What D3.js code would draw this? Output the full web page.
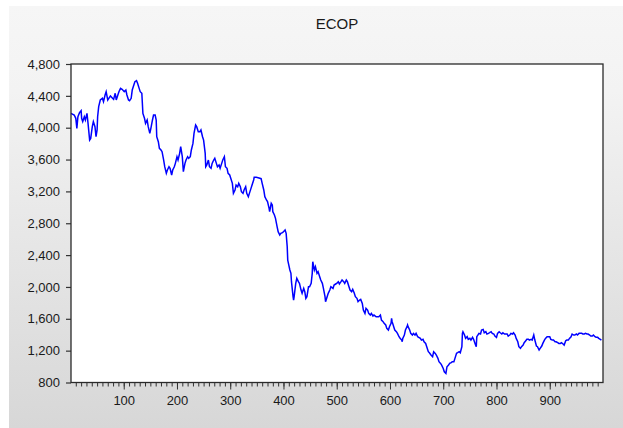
<!DOCTYPE html>
<html>
<head>
<meta charset="utf-8">
<script src="https://cdn.jsdelivr.net/npm/d3@7"></script>
<style>
  html, body { margin: 0; padding: 0; background: #ffffff; }
  svg { display: block; }
  text { font-family: Arial, "Liberation Sans", sans-serif; fill: #1a1a1a; }
</style>
</head>
<body>
<svg id="chart" width="623" height="428"></svg>
<script>
// Observation numbers and ECOP values
const obsIndex = [
  1,7,10,12,14,17,20,21,23,26,28,31,33,36,38,41,43,46,48,50,51,53,56,60,62,65,67,70,72,75,
  79,81,84,86,89,91,94,97,101,104,106,109,111,114,116,119,121,124,126,129,131,134,135,136,139,141,144,146,149,151,
  154,156,159,161,162,165,167,170,172,175,177,180,182,185,187,190,192,195,197,200,202,205,207,210,212,215,217,220,222,225,
  227,230,232,235,237,240,243,245,248,250,253,254,256,259,261,264,266,269,271,274,276,279,281,284,286,289,291,294,296,299,
  301,304,306,309,311,314,316,319,321,324,326,329,331,334,336,339,341,344,
  345,349,354,358,360,363,365,368,370,373,374,377,379,380,383,385,388,390,393,395,398,400,403,405,407,408,410,412,414,415,
  417,418,419,420,423,425,428,430,433,435,438,440,442,444,447,449,452,454,455,458,460,463,465,468,470,473,475,478,479,482,
  484,487,489,493,495,498,500,503,505,508,510,513,515,518,520,523,525,528,530,533,535,538,540,543,545,548,550,553,555,558,
  560,563,565,568,570,574,579,
  582,584,587,589,592,594,597,599,602,603,604,606,607,609,612,614,617,619,622,623,624,627,629,632,633,634,637,639,642,644,
  647,649,652,654,657,659,662,664,667,669,672,674,677,680,682,685,687,690,692,695,697,700,702,705,706,707,710,712,715,717,
  720,722,725,727,730,732,735,736,737,740,742,745,747,750,752,755,757,760,762,763,765,767,770,772,775,777,780,782,785,787,
  790,792,795,797,800,802,805,807,810,812,815,817,820,822,825,827,830,832,835,837,840,842,845,847,850,852,855,857,860,862,
  865,867,870,872,875,877,880,882,885,887,890,892,895,897,900,902,905,907,910,912,915,917,920,922,925,927,930,932,935,937,
  940,942,945,947,950,952,955,957,960,962,965,967,970,972,975,977,980,982,985,987,990,992,995,997
];
const ecopValues = [
  4180,4159,4118,3992,4138,4189,4214,4118,4076,4138,4097,4180,4055,3845,3866,4013,4076,4013,3887,3971,4138,4264,4348,4369,4327,4411,4452,4348,4369,4398,
  4369,4356,4432,4348,4411,4452,4494,4482,4452,4473,4411,4348,4339,4369,4473,4536,4578,4591,4557,4494,4452,4432,4306,4180,4118,4055,4097,4013,3929,3992,
  4097,4159,4159,4097,3887,3824,3741,3720,3699,3594,3510,3427,3469,3510,3490,3406,3469,3510,3552,3636,3594,3678,3762,3636,3448,3552,3594,3636,3615,3636,
  3720,3803,3929,4034,4013,3950,3950,3971,3887,3845,3678,3510,3531,3594,3510,3490,3552,3594,3615,3552,3510,3531,3490,3552,3594,3636,3510,3490,3427,3406,
  3364,3301,3175,3217,3280,3259,3301,3259,3196,3175,3217,3259,3175,3134,3175,3238,3280,3343,
  3377,3377,3368,3360,3301,3218,3134,3092,3071,2988,2945,3050,3029,2945,2904,2862,2757,2694,2652,2673,2682,2694,2715,2673,2506,2338,2275,2213,2171,2066,
  1941,1878,1836,1878,2045,2108,2066,2045,1961,1920,1982,1941,1857,1878,2003,2003,2045,2171,2317,2213,2254,2171,2192,2129,2087,2045,1982,1878,1815,1878,
  1920,1961,2003,1982,2024,2037,2045,2066,2037,2066,2087,2066,2045,2087,2066,2003,1961,1941,1970,1920,1878,1857,1815,1836,1844,1794,1710,1668,1731,1710,
  1668,1647,1668,1635,1647,1626,1626,
  1647,1584,1564,1543,1522,1480,1459,1501,1543,1605,1564,1522,1501,1459,1438,1417,1375,1354,1333,1312,1354,1396,1459,1501,1522,1501,1459,1417,1396,1417,
  1396,1417,1375,1367,1354,1333,1342,1312,1291,1250,1187,1174,1145,1124,1187,1166,1145,1103,1061,1040,1019,977,935,915,956,998,1019,1040,1049,1061,
  1061,1103,1166,1174,1187,1174,1250,1417,1438,1396,1354,1375,1342,1354,1333,1367,1342,1283,1250,1375,1396,1417,1409,1459,1467,1425,1438,1409,1417,1425,
  1438,1417,1409,1383,1367,1417,1438,1425,1409,1425,1409,1409,1409,1383,1396,1417,1409,1425,1396,1354,1312,1250,1229,1250,1270,1300,1325,1342,1342,1333,
  1342,1333,1396,1333,1258,1250,1208,1229,1258,1291,1333,1354,1375,1375,1375,1342,1333,1333,1312,1312,1300,1291,1291,1300,1283,1270,1325,1333,1333,1354,
  1375,1409,1396,1396,1409,1396,1417,1417,1417,1409,1409,1417,1409,1409,1396,1383,1383,1396,1375,1367,1367,1354,1342,1333
];

const chartTitle = "ECOP";
const yTickValues = [800, 1200, 1600, 2000, 2400, 2800, 3200, 3600, 4000, 4400, 4800];
const xMajorTicks = [100, 200, 300, 400, 500, 600, 700, 800, 900];
const xMinorTicks = d3.range(10, 1000, 10);

const series = obsIndex.map((n, i) => ({ n, v: ecopValues[i] }));

const svg = d3.select("#chart");
const W = 623, H = 428;
const plot = { left: 71, right: 603, top: 64, bottom: 382.5 };

// Panel background with a soft vertical gradient
const defs = svg.append("defs");
const grad = defs.append("linearGradient")
  .attr("id", "panelGrad").attr("x1", 0).attr("y1", 0).attr("x2", 0).attr("y2", 1);
grad.append("stop").attr("offset", "0%").attr("stop-color", "#f6f6f6");
grad.append("stop").attr("offset", "20%").attr("stop-color", "#f3f3f3");
grad.append("stop").attr("offset", "100%").attr("stop-color", "#d7d7d7");

svg.append("rect").attr("width", W).attr("height", H).attr("fill", "#ffffff");
svg.append("rect").attr("x", 9).attr("y", 6).attr("width", W - 9).attr("height", H - 6)
  .attr("fill", "url(#panelGrad)");

const x = d3.scaleLinear().domain([1, 1000]).range([plot.left, plot.right]);
const y = d3.scaleLinear().domain([800, 4800]).range([plot.bottom, plot.top]);

// Plot area
svg.append("rect")
  .attr("x", plot.left).attr("y", plot.top)
  .attr("width", plot.right - plot.left).attr("height", plot.bottom - plot.top)
  .attr("fill", "#ffffff");

// Title
svg.append("text")
  .attr("x", (plot.left + plot.right) / 2).attr("y", 29)
  .attr("text-anchor", "middle")
  .style("font-size", "15px")
  .text(chartTitle);

// Y axis
const yAxis = svg.append("g")
  .attr("transform", `translate(${plot.left},0)`)
  .call(d3.axisLeft(y).tickValues(yTickValues).tickSize(5).tickPadding(6)
    .tickFormat(d3.format(",")));
yAxis.select(".domain").remove();
yAxis.selectAll("line").attr("stroke", "#333").attr("stroke-width", 1.2);
yAxis.selectAll("text").style("font-size", "13px").attr("fill", "#1a1a1a");

// X axis: minor ticks every 10, labelled major ticks every 100
const xMinor = svg.append("g")
  .attr("transform", `translate(0,${plot.bottom})`)
  .call(d3.axisBottom(x).tickValues(xMinorTicks).tickSize(4).tickFormat(""));
xMinor.select(".domain").remove();
xMinor.selectAll("line").attr("stroke", "#333").attr("stroke-width", 1);

const xMajor = svg.append("g")
  .attr("transform", `translate(0,${plot.bottom})`)
  .call(d3.axisBottom(x).tickValues(xMajorTicks).tickSize(7).tickPadding(6)
    .tickFormat(d3.format("d")));
xMajor.select(".domain").remove();
xMajor.selectAll("line").attr("stroke", "#333").attr("stroke-width", 1);
xMajor.selectAll("text").style("font-size", "13px").attr("fill", "#1a1a1a");

// Series line
const line = d3.line().x(d => x(d.n)).y(d => y(d.v));
svg.append("path")
  .datum(series)
  .attr("d", line)
  .attr("fill", "none")
  .attr("stroke", "#0000ff")
  .attr("stroke-width", 1.5)
  .attr("stroke-linejoin", "miter");

// Frame around plot area
svg.append("rect")
  .attr("x", plot.left).attr("y", plot.top)
  .attr("width", plot.right - plot.left).attr("height", plot.bottom - plot.top)
  .attr("fill", "none")
  .attr("stroke", "#2a2a2a")
  .attr("stroke-width", 1.3);
</script>
</body>
</html>
